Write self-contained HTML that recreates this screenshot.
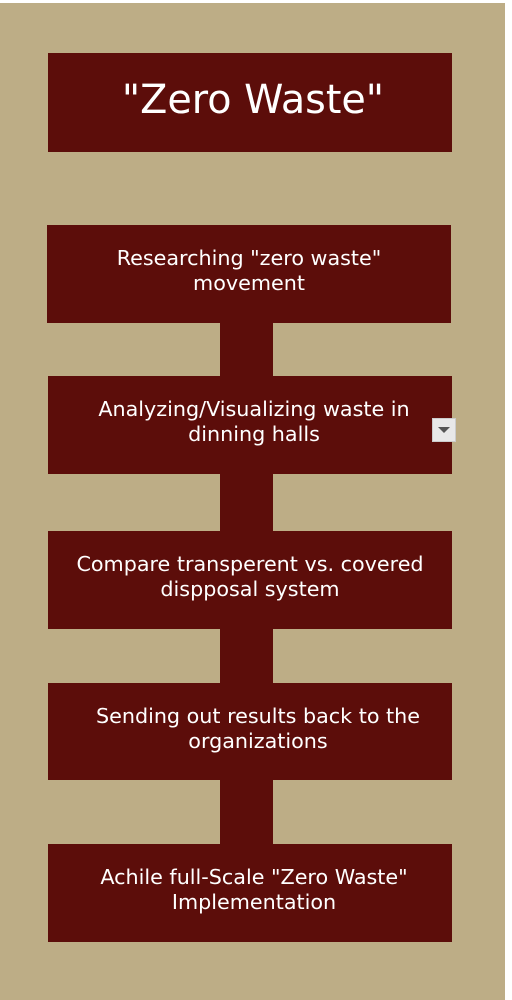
<!DOCTYPE html>
<html><head><style>
body{margin:0;width:512px;height:1000px;background:#fff;position:relative;overflow:hidden;font-family:"DejaVu Sans",sans-serif}
.bg{position:absolute;left:0;top:3px;width:505px;height:997px;background:#bdad86}
.b{position:absolute;left:48px;width:404px;background:#5c0d0a;color:#fff;display:flex;align-items:center;justify-content:center;text-align:center;font-size:20.7px;line-height:25px;box-sizing:border-box;padding-bottom:6px}
.c{position:absolute;left:220px;width:53px;background:#5c0d0a}
.dd{position:absolute;left:432px;top:418px;width:22px;height:22px;background:#e8e8e8;border:1px solid #ccc}
.dd:after{content:"";position:absolute;left:5px;top:8px;border-left:6px solid transparent;border-right:6px solid transparent;border-top:6px solid #555}
</style></head><body>
<div class="bg"></div>
<div class="c" style="top:320px;height:530px"></div>
<div class="b" style="top:53px;height:99px;font-size:39.7px;padding-left:6px;padding-bottom:4px">"Zero Waste"</div>
<div class="b" style="left:47px;top:225px;height:98px">Researching "zero waste"<br>movement</div>
<div class="b" style="top:376px;height:98px;padding-left:8px">Analyzing/Visualizing waste in<br>dinning halls</div>
<div class="b" style="top:531px;height:98px">Compare transperent vs. covered<br>dispposal system</div>
<div class="b" style="top:683px;height:97px;padding-left:16px">Sending out results back to the<br>organizations</div>
<div class="b" style="top:844px;height:98px;padding-left:8px">Achile full-Scale "Zero Waste"<br>Implementation</div>
<div class="dd"></div>
</body></html>
